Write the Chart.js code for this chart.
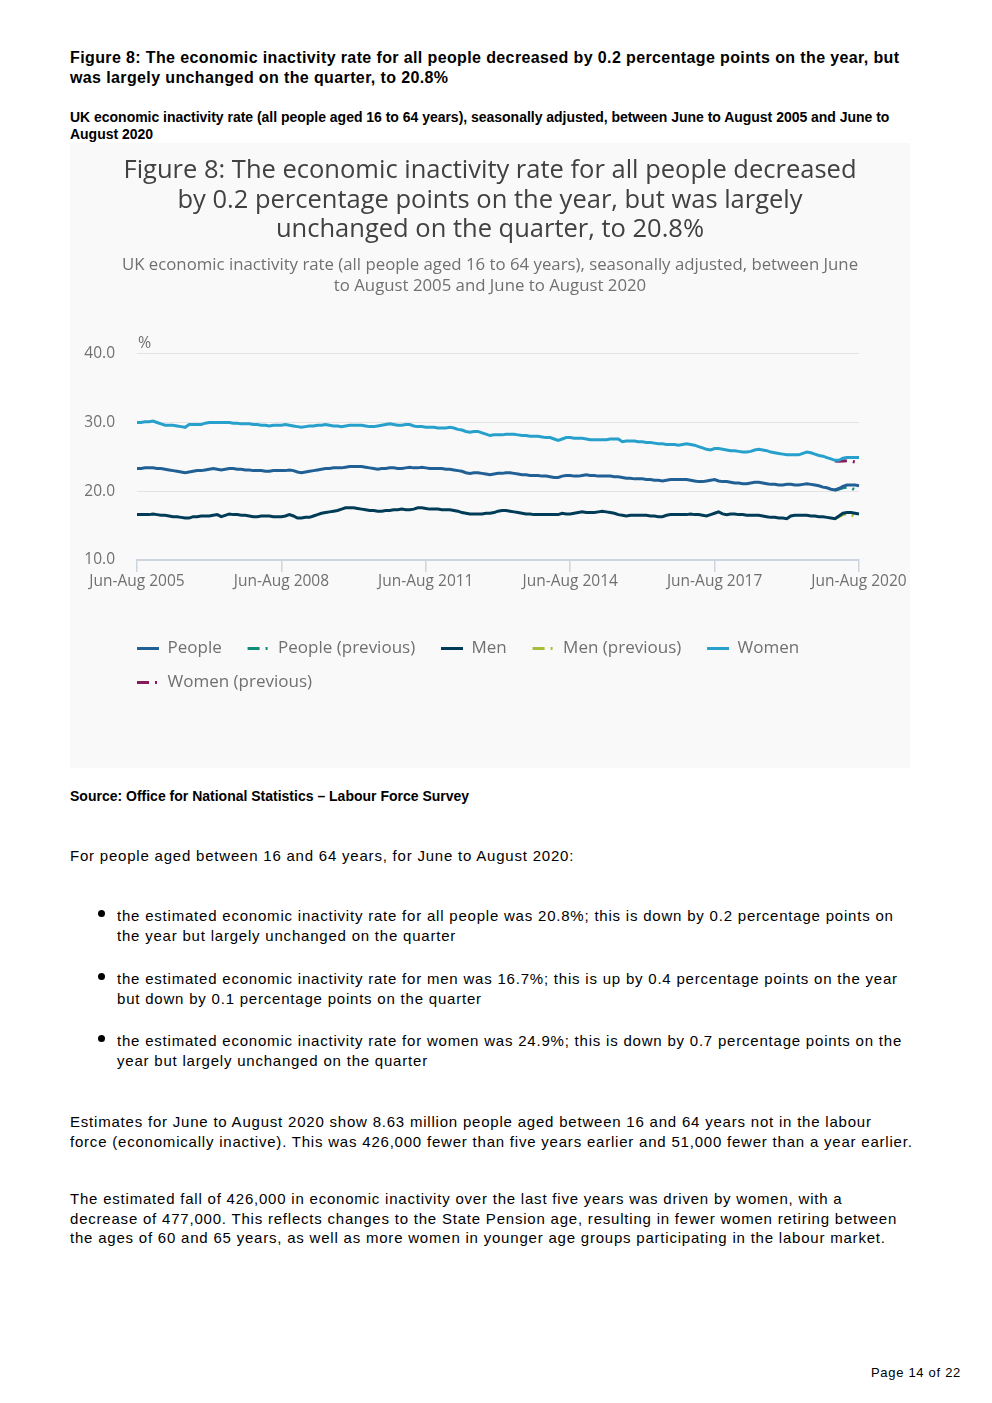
<!DOCTYPE html>
<html>
<head>
<meta charset="utf-8">
<script src="https://cdn.jsdelivr.net/npm/chart.js@4.4.0/dist/chart.umd.min.js"></script>
<style>
  body { margin: 0; background: #fff; }
  #page { position: relative; width: 992px; height: 1403px; font-family: "Liberation Sans", Arial, sans-serif; color: #000; }
  .txt { position: absolute; left: 70px; margin: 0; white-space: nowrap; }
  .head { top: 48px; font-size: 16px; font-weight: bold; line-height: 20px; letter-spacing: 0.38px; }
  .sub { top: 109px; font-size: 14px; font-weight: bold; line-height: 17px; letter-spacing: -0.02px; }
  .source { top: 788px; font-size: 14px; font-weight: bold; line-height: 17px; letter-spacing: 0; }
  .body { font-size: 15px; line-height: 20px; letter-spacing: 0.79px; }
  .bullet { position: absolute; left: 117px; white-space: nowrap; font-size: 15px; line-height: 20px; letter-spacing: 0.79px; }
  .dot { position: absolute; left: 98px; width: 7px; height: 7px; border-radius: 50%; background: #000; }
  #box { position: absolute; left: 70px; top: 143px; width: 840px; height: 625px; background: #f9f9f9; }
  .pageno { position: absolute; right: 31px; top: 1365px; font-size: 13px; letter-spacing: 0.7px; }
</style>
</head>
<body>
<div id="page">
  <p class="txt head">Figure 8: The economic inactivity rate for all people decreased by 0.2 percentage points on the year, but<br>was largely unchanged on the quarter, to 20.8%</p>
  <p class="txt sub">UK economic inactivity rate (all people aged 16 to 64 years), seasonally adjusted, between June to August 2005 and June to<br>August 2020</p>

  <div id="box"><canvas id="inactivityChart"></canvas></div>

  <p class="txt source">Source: Office for National Statistics – Labour Force Survey</p>

  <p class="txt body" style="top:846px;">For people aged between 16 and 64 years, for June to August 2020:</p>

  <div class="dot" style="top:910px;"></div>
  <p class="bullet" style="top:906px;margin:0;">the estimated economic inactivity rate for all people was 20.8%; this is down by 0.2 percentage points on<br>the year but largely unchanged on the quarter</p>
  <div class="dot" style="top:973px;"></div>
  <p class="bullet" style="top:969px;margin:0;">the estimated economic inactivity rate for men was 16.7%; this is up by 0.4 percentage points on the year<br>but down by 0.1 percentage points on the quarter</p>
  <div class="dot" style="top:1035px;"></div>
  <p class="bullet" style="top:1031px;margin:0;">the estimated economic inactivity rate for women was 24.9%; this is down by 0.7 percentage points on the<br>year but largely unchanged on the quarter</p>

  <p class="txt body" style="top:1112px;">Estimates for June to August 2020 show 8.63 million people aged between 16 and 64 years not in the labour<br>force (economically inactive). This was 426,000 fewer than five years earlier and 51,000 fewer than a year earlier.</p>

  <p class="txt body" style="top:1189px;line-height:19.5px;">The estimated fall of 426,000 in economic inactivity over the last five years was driven by women, with a<br>decrease of 477,000. This reflects changes to the State Pension age, resulting in fewer women retiring between<br>the ages of 60 and 65 years, as well as more women in younger age groups participating in the labour market.</p>

  <div class="pageno">Page 14 of 22</div>
</div>

<script>
// ===============================
// Economic inactivity rate, 16 to 64
// ===============================

// rolling three-month periods, Jun-Aug 2005 to Jun-Aug 2020
let monthNames = ["Jan", "Feb", "Mar", "Apr", "May", "Jun", "Jul", "Aug", "Sep", "Oct", "Nov", "Dec"];
let periodCount = 181;
let periods = [];
for (let i = 0; i < periodCount; i++) {
    let s = 5 + i;
    let e = s + 2;
    periods.push(monthNames[s % 12] + "-" + monthNames[e % 12] + " " + (2005 + Math.floor(e / 12)));
}

// every 36th period carries a label
let tickEvery = 36;
let yTicks = [10, 20, 30, 40];

let people = [
    23.3, 23.3, 23.4, 23.4, 23.4, 23.3, 23.3, 23.2, 23.1, 23.0, 22.9, 22.8,
    22.7, 22.8, 22.9, 23.0, 23.0, 23.1, 23.2, 23.3, 23.2, 23.1, 23.2, 23.3,
    23.3, 23.2, 23.2, 23.1, 23.1, 23.0, 23.0, 23.0, 22.9, 22.9, 23.0, 23.0,
    23.0, 23.0, 23.1, 23.0, 22.8, 22.7, 22.8, 22.9, 23.0, 23.1, 23.2, 23.3,
    23.3, 23.4, 23.4, 23.4, 23.5, 23.6, 23.6, 23.6, 23.6, 23.5, 23.4, 23.3,
    23.2, 23.3, 23.3, 23.4, 23.4, 23.3, 23.3, 23.4, 23.5, 23.4, 23.4, 23.5,
    23.4, 23.3, 23.3, 23.3, 23.3, 23.2, 23.2, 23.1, 23.0, 22.9, 22.7, 22.6,
    22.7, 22.7, 22.6, 22.5, 22.4, 22.5, 22.6, 22.6, 22.7, 22.7, 22.6, 22.5,
    22.4, 22.4, 22.3, 22.3, 22.3, 22.2, 22.2, 22.1, 22.0, 22.0, 22.2, 22.3,
    22.3, 22.2, 22.2, 22.3, 22.4, 22.3, 22.3, 22.2, 22.2, 22.2, 22.2, 22.1,
    22.1, 22.0, 21.9, 21.9, 21.8, 21.8, 21.8, 21.7, 21.7, 21.6, 21.6, 21.5,
    21.6, 21.7, 21.7, 21.7, 21.7, 21.7, 21.6, 21.5, 21.4, 21.4, 21.5, 21.6,
    21.7, 21.5, 21.4, 21.4, 21.3, 21.2, 21.2, 21.1, 21.1, 21.2, 21.3, 21.3,
    21.2, 21.1, 21.0, 21.0, 20.9, 20.9, 21.0, 21.0, 20.9, 20.9, 21.0, 21.1,
    21.0, 20.9, 20.8, 20.6, 20.5, 20.3, 20.2, 20.4, 20.7, 20.9, 20.9, 20.9,
    20.8
];

let men = [
    16.6, 16.6, 16.6, 16.6, 16.7, 16.6, 16.5, 16.5, 16.4, 16.3, 16.3, 16.2,
    16.1, 16.1, 16.3, 16.3, 16.4, 16.4, 16.4, 16.5, 16.6, 16.3, 16.5, 16.7,
    16.6, 16.6, 16.5, 16.5, 16.4, 16.3, 16.3, 16.4, 16.4, 16.4, 16.3, 16.3,
    16.3, 16.4, 16.6, 16.4, 16.1, 16.1, 16.2, 16.2, 16.4, 16.6, 16.8, 16.9,
    17.0, 17.1, 17.2, 17.4, 17.6, 17.6, 17.6, 17.5, 17.4, 17.3, 17.2, 17.2,
    17.1, 17.1, 17.2, 17.2, 17.3, 17.3, 17.4, 17.3, 17.3, 17.4, 17.6, 17.6,
    17.5, 17.4, 17.4, 17.4, 17.3, 17.3, 17.3, 17.2, 17.1, 16.9, 16.8, 16.7,
    16.7, 16.7, 16.7, 16.8, 16.8, 16.9, 17.1, 17.2, 17.2, 17.1, 17.0, 16.9,
    16.8, 16.7, 16.7, 16.6, 16.6, 16.6, 16.6, 16.6, 16.6, 16.6, 16.8, 16.7,
    16.7, 16.8, 16.9, 17.0, 16.9, 16.9, 16.9, 17.0, 17.1, 17.0, 16.9, 16.8,
    16.6, 16.5, 16.4, 16.5, 16.5, 16.5, 16.5, 16.5, 16.4, 16.4, 16.3, 16.3,
    16.5, 16.6, 16.6, 16.6, 16.6, 16.6, 16.7, 16.6, 16.6, 16.5, 16.4, 16.6,
    16.8, 17.0, 16.7, 16.6, 16.7, 16.7, 16.6, 16.6, 16.5, 16.5, 16.5, 16.5,
    16.4, 16.3, 16.2, 16.2, 16.1, 16.1, 16.0, 16.4, 16.5, 16.5, 16.5, 16.5,
    16.4, 16.4, 16.3, 16.3, 16.2, 16.1, 16.0, 16.4, 16.8, 16.9, 16.9, 16.8,
    16.7
];

let women = [
    30.0, 30.0, 30.1, 30.1, 30.2, 30.0, 29.8, 29.6, 29.6, 29.6, 29.5, 29.4,
    29.3, 29.7, 29.7, 29.7, 29.7, 29.9, 30.0, 30.0, 30.0, 30.0, 30.0, 30.0,
    29.9, 29.9, 29.8, 29.8, 29.8, 29.7, 29.7, 29.6, 29.6, 29.5, 29.6, 29.6,
    29.6, 29.7, 29.6, 29.5, 29.4, 29.3, 29.4, 29.5, 29.5, 29.6, 29.6, 29.7,
    29.6, 29.5, 29.5, 29.4, 29.5, 29.6, 29.6, 29.6, 29.6, 29.5, 29.4, 29.4,
    29.5, 29.6, 29.7, 29.8, 29.7, 29.6, 29.6, 29.7, 29.7, 29.5, 29.4, 29.4,
    29.3, 29.3, 29.3, 29.2, 29.2, 29.2, 29.3, 29.2, 29.0, 28.9, 28.7, 28.6,
    28.7, 28.7, 28.5, 28.3, 28.1, 28.2, 28.2, 28.2, 28.3, 28.3, 28.3, 28.2,
    28.1, 28.1, 28.0, 28.0, 28.0, 27.9, 27.8, 27.8, 27.6, 27.4, 27.6, 27.8,
    27.8, 27.7, 27.7, 27.7, 27.6, 27.5, 27.5, 27.5, 27.5, 27.5, 27.6, 27.6,
    27.6, 27.2, 27.3, 27.3, 27.3, 27.2, 27.2, 27.1, 27.1, 27.0, 26.9, 26.9,
    26.8, 26.8, 26.8, 26.7, 26.8, 26.9, 26.8, 26.7, 26.5, 26.3, 26.1, 26.0,
    26.2, 26.2, 26.1, 26.0, 25.9, 25.9, 25.8, 25.7, 25.7, 25.8, 26.0, 26.1,
    26.0, 25.9, 25.7, 25.6, 25.5, 25.4, 25.3, 25.3, 25.3, 25.3, 25.5, 25.7,
    25.6, 25.4, 25.2, 25.1, 24.9, 24.7, 24.5, 24.5, 24.8, 24.9, 24.9, 24.9,
    24.9
];

// previous estimates only exist for the last few periods (Dec-Feb 2020 to May-Jul 2020)
let previousStart = 174;
let peoplePrevious = [20.15, 20.3, 20.5, 20.6, 20.5, 20.2];
let menPrevious = [16.0, 16.3, 16.6, 16.7, 16.6, 16.3];
let womenPrevious = [24.4, 24.35, 24.4, 24.45, 24.4, 24.25];

function padPrevious(values) {
    return new Array(previousStart).fill(null).concat(values);
}

let gridColour = "#e3e3e3";
let axisColour = "#cdd6e0";
let labelColour = "#707070";
let previousDash = [12, 6, 2, 6];

function lineSet(label, data, colour, dashed) {
    return {
        label: label,
        data: data,
        borderColor: colour,
        backgroundColor: colour,
        borderWidth: 3,
        borderDash: dashed ? previousDash : [],
        pointRadius: 0,
        pointStyle: "line",
        tension: 0,
        spanGaps: false
    };
}

// "%" unit label and legend alignment with the plot area
let chartExtras = {
    id: "chartExtras",
    afterLayout(chart) {
        let pad = chart.legend.options.labels.padding;
        let shift = chart.legend.left - (chart.chartArea.left - pad);
        chart.legend.left -= shift;
        chart.legend.right -= shift;
    },
    afterDraw(chart) {
        let ctx = chart.ctx;
        ctx.save();
        ctx.font = "16px 'Open Sans'";
        ctx.fillStyle = labelColour;
        ctx.textAlign = "left";
        ctx.textBaseline = "middle";
        ctx.fillText("%", chart.chartArea.left + 1, chart.chartArea.top - 10);
        ctx.restore();
    }
};

let canvas = document.getElementById("inactivityChart");

if (canvas && typeof Chart !== "undefined") {

    let ctx = canvas.getContext("2d");

    new Chart(ctx, {

        type: "line",

        data: {
            labels: periods,
            datasets: [
                lineSet("People", people, "#206095", false),
                lineSet("People (previous)", padPrevious(peoplePrevious), "#118c7b", true),
                lineSet("Men", men, "#003c57", false),
                lineSet("Men (previous)", padPrevious(menPrevious), "#a8bd3a", true),
                lineSet("Women", women, "#27a0cc", false),
                lineSet("Women (previous)", padPrevious(womenPrevious), "#871a5b", true)
            ]
        },

        options: {

            responsive: true,
            maintainAspectRatio: false,
            animation: false,

            layout: {
                padding: { left: 0, right: 0, top: 0, bottom: 67 }
            },

            plugins: {

                title: {
                    display: true,
                    text: [
                        "Figure 8: The economic inactivity rate for all people decreased",
                        "by 0.2 percentage points on the year, but was largely",
                        "unchanged on the quarter, to 20.8%"
                    ],
                    color: "#414042",
                    font: { family: "'Open Sans'", size: 25.5, weight: "normal", lineHeight: 1.16 },
                    padding: { top: 13, bottom: 0 }
                },

                subtitle: {
                    display: true,
                    text: [
                        "UK economic inactivity rate (all people aged 16 to 64 years), seasonally adjusted, between June",
                        "to August 2005 and June to August 2020"
                    ],
                    color: labelColour,
                    font: { family: "'Open Sans'", size: 16.8, lineHeight: 1.25 },
                    padding: { top: 10, bottom: 57 }
                },

                legend: {
                    display: true,
                    position: "bottom",
                    align: "start",
                    fullSize: false,
                    labels: {
                        usePointStyle: true,
                        pointStyleWidth: 22,
                        padding: 17,
                        color: labelColour,
                        font: { family: "'Open Sans'", size: 17 },
                        generateLabels: function (chart) {
                            let items = Chart.defaults.plugins.legend.labels.generateLabels(chart);
                            return items.map(function (item) {
                                let ds = chart.data.datasets[item.datasetIndex];
                                item.text = item.text + "  ";
                                item.lineDash = ds.borderDash;
                                item.lineWidth = ds.borderWidth;
                                return item;
                            });
                        }
                    }
                },

                tooltip: { enabled: false }
            },

            scales: {

                x: {
                    grid: {
                        display: true,
                        drawOnChartArea: false,
                        drawTicks: true,
                        tickLength: 12,
                        color: axisColour,
                        lineWidth: 1.5
                    },
                    border: { display: true, color: axisColour, width: 2 },
                    ticks: {
                        autoSkip: false,
                        maxRotation: 0,
                        padding: 0,
                        color: labelColour,
                        font: { family: "'Open Sans'", size: 15.5 },
                        callback: function (value, index) {
                            return index % tickEvery === 0 ? periods[index] : null;
                        }
                    },
                    afterFit: function (scale) {
                        scale.height = 63;
                    }
                },

                y: {
                    min: yTicks[0],
                    max: yTicks[yTicks.length - 1],
                    afterBuildTicks: function (scale) {
                        scale.ticks = yTicks.map(function (v) { return { value: v }; });
                    },
                    grid: {
                        color: gridColour,
                        drawTicks: false
                    },
                    border: { display: false },
                    ticks: {
                        padding: 22,
                        color: labelColour,
                        font: { family: "'Open Sans'", size: 15.5 },
                        callback: function (value) {
                            return value.toFixed(1);
                        }
                    },
                    afterFit: function (scale) {
                        scale.width = 67;
                    }
                },

                // empty right-hand axis that only reserves room beside the plot
                yRight: {
                    position: "right",
                    display: true,
                    grid: { display: false },
                    border: { display: false },
                    ticks: { display: false },
                    afterFit: function (scale) {
                        scale.width = 51;
                    }
                }
            }
        },

        plugins: [chartExtras]

    });

}
</script>
</body>
</html>
